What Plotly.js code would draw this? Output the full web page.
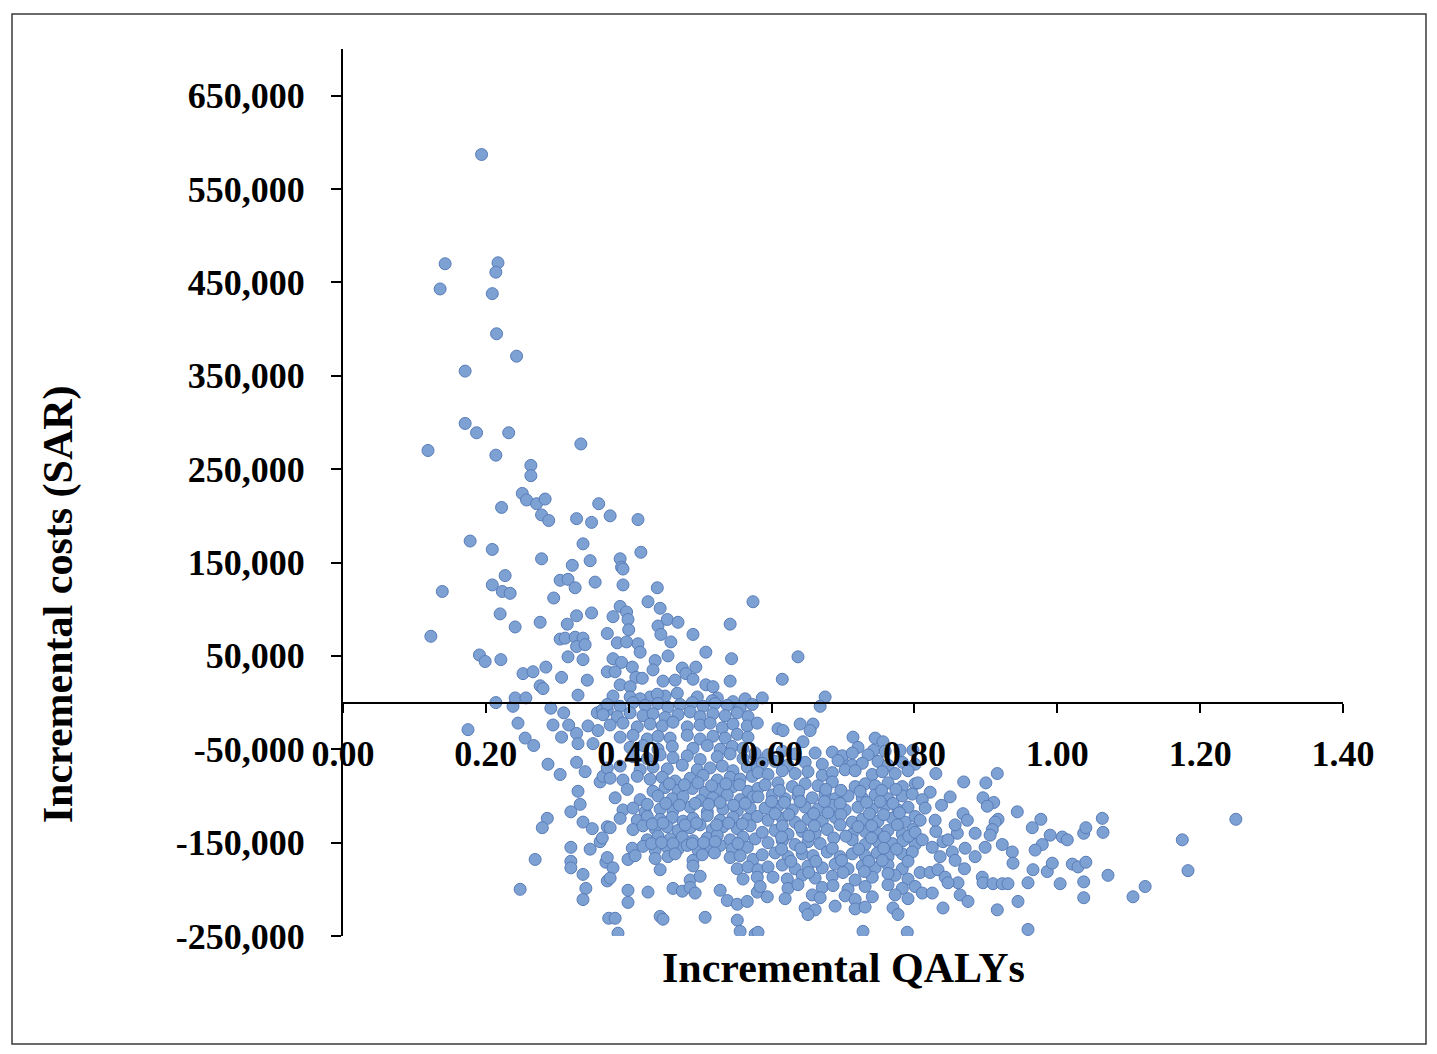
<!DOCTYPE html>
<html>
<head>
<meta charset="utf-8">
<script src="https://cdn.plot.ly/plotly-3.0.1.min.js"></script>
<style>
  html, body { margin: 0; padding: 0; background: #ffffff; }
  #chart { width: 1437px; height: 1054px; }
</style>
</head>
<body>
<div id="chart"></div>
<script>
// Each point: [incremental QALYs, incremental cost in thousand SAR]
const upperTail = [
  [0.194,587],[0.143,470],[0.217,471],[0.214,461],[0.136,443],[0.209,438],[0.215,395],[0.243,371],[0.171,355],
  [0.171,299],[0.187,289],[0.232,289],[0.119,270],[0.214,265],[0.333,277],[0.263,254],[0.263,243],[0.251,224],
  [0.257,217],[0.271,213],[0.283,218],[0.278,201],[0.288,195],[0.222,209],[0.327,197],[0.348,193],[0.358,213],
  [0.374,200],[0.178,173],[0.209,164],[0.278,154],[0.336,170],[0.346,152],[0.321,147],[0.353,129],[0.139,119],
  [0.227,136],[0.209,126],[0.223,119],[0.234,117],[0.304,131],[0.315,132],[0.325,123],[0.295,112]
];
const leftCluster = [
  [0.123,71],[0.220,95],[0.241,81],[0.276,86],[0.314,84],[0.327,93],[0.348,96],[0.304,68],[0.311,69],[0.325,70],
  [0.336,69],[0.327,60],[0.339,62],[0.370,74],[0.191,51],[0.199,44],[0.221,46],[0.252,31],[0.266,33],[0.284,38],
  [0.315,49],[0.336,46],[0.306,27],[0.342,24],[0.370,33],[0.276,18],[0.280,15],[0.329,8],[0.214,0],[0.238,-4],
  [0.241,5],[0.256,5],[0.175,-29],[0.245,-22],[0.255,-38],[0.267,-46],[0.291,-6],[0.309,-11],[0.294,-24],[0.316,-24],
  [0.306,-37],[0.327,-33],[0.329,-44],[0.343,-25],[0.350,-44],[0.357,-30],[0.356,-11],[0.370,-8],[0.363,-8],[0.287,-66],
  [0.327,-64],[0.304,-77],[0.339,-74],[0.360,-85],[0.364,-79],[0.329,-95],[0.332,-109],[0.319,-117],[0.286,-124],[0.279,-134],
  [0.336,-128],[0.349,-135],[0.370,-133],[0.319,-155],[0.346,-157],[0.360,-149],[0.269,-168],[0.319,-170],[0.319,-177],[0.336,-184],
  [0.368,-171],[0.370,-191],[0.340,-199],[0.248,-200],[0.336,-211],[0.372,-231]
];
const midUpper = [
  [0.413,196],[0.417,161],[0.388,154],[0.390,145],[0.392,143],[0.392,126],[0.440,123],[0.427,108],[0.444,101],[0.388,103],
  [0.397,97],[0.378,92],[0.399,89],[0.400,78],[0.441,82],[0.454,89],[0.469,86],[0.445,73],[0.490,73],[0.542,84],
  [0.574,108],[0.384,64],[0.397,65],[0.413,63],[0.416,54],[0.459,65],[0.455,50],[0.508,54],[0.544,47],[0.637,49],
  [0.378,47],[0.390,43],[0.437,45],[0.405,38],[0.434,35],[0.475,37],[0.494,38],[0.381,33],[0.410,27],[0.419,26],
  [0.448,23],[0.465,24],[0.480,31],[0.490,25],[0.508,19],[0.518,17],[0.542,23],[0.615,25],[0.388,19],[0.402,17],
  [0.378,7],[0.402,6],[0.430,6],[0.451,7],[0.468,10],[0.496,6],[0.524,5],[0.587,5],[0.675,6],
  [0.416,4],[0.517,2],[0.546,1],[0.563,4],[0.440,9],
  [0.668,-4],[0.609,-28],[0.616,-30],[0.640,-23],[0.658,-23],[0.654,-30],[0.714,-37],[0.721,-48],[0.745,-38],[0.756,-42],
  [0.644,-42],[0.743,-51],[0.780,-51],[0.798,-51],[0.661,-54],[0.699,-62],[0.713,-67],[0.703,-72]
];
const coreLeft = [
  [0.370,-2],[0.388,-4],[0.406,0],[0.423,-3],[0.441,-1],[0.455,-5],[0.472,-2],[0.489,0],[0.504,-4],[0.521,-1],[0.538,-3],[0.556,-6],[0.573,-2],
  [0.364,-13],[0.384,-15],[0.402,-11],[0.420,-14],[0.434,-12],[0.451,-16],[0.469,-13],[0.486,-10],[0.500,-15],[0.518,-12],[0.535,-14],[0.552,-11],[0.567,-15],
  [0.374,-24],[0.392,-22],[0.412,-26],[0.430,-23],[0.447,-25],[0.462,-21],[0.482,-26],[0.500,-24],[0.514,-22],[0.531,-27],[0.546,-23],[0.566,-25],[0.580,-22],
  [0.388,-37],[0.406,-35],[0.426,-39],[0.441,-36],[0.458,-38],[0.482,-35],[0.500,-39],[0.518,-36],[0.535,-38],[0.552,-34],[0.567,-37],
  [0.402,-48],[0.420,-46],[0.441,-50],[0.461,-47],[0.490,-49],[0.510,-46],[0.528,-50],[0.545,-47],[0.560,-49],
  [0.406,-58],[0.426,-60],[0.444,-56],[0.462,-59],[0.482,-57],[0.500,-61],[0.524,-58],[0.542,-55],[0.560,-60],[0.577,-57],
  [0.370,-70],[0.388,-68],[0.416,-72],[0.434,-69],[0.454,-71],[0.475,-67],[0.496,-72],[0.514,-70],[0.531,-68],[0.546,-73],[0.566,-69],[0.580,-71],
  [0.374,-81],[0.392,-83],[0.412,-79],[0.430,-82],[0.447,-80],[0.465,-84],[0.486,-81],[0.504,-78],[0.524,-83],[0.542,-80],[0.556,-82],[0.573,-79],
  [0.398,-93],[0.434,-95],[0.451,-91],[0.469,-94],[0.489,-92],[0.507,-96],[0.528,-93],[0.546,-90],[0.567,-95],[0.581,-92],
  [0.381,-102],[0.416,-104],[0.441,-100],[0.461,-103],[0.476,-101],[0.500,-105],[0.518,-102],[0.538,-99],[0.556,-104],[0.574,-101],
  [0.392,-115],[0.406,-113],[0.423,-117],[0.444,-114],[0.462,-116],[0.486,-112],[0.510,-117],[0.532,-114],[0.552,-116],[0.570,-113],
  [0.388,-124],[0.412,-126],[0.426,-122],[0.444,-125],[0.461,-123],[0.476,-127],[0.490,-124],[0.510,-121],[0.528,-126],[0.546,-123],[0.566,-125],[0.580,-122],
  [0.374,-134],[0.406,-136],[0.420,-132],[0.437,-135],[0.454,-133],[0.469,-137],[0.486,-134],[0.500,-131],[0.517,-136],[0.532,-133],[0.552,-135],[0.570,-132],
  [0.363,-145],[0.426,-147],[0.441,-143],[0.458,-146],[0.475,-144],[0.490,-148],[0.510,-145],[0.524,-142],[0.542,-147],[0.560,-144],[0.577,-146],
  [0.405,-156],[0.420,-154],[0.437,-158],[0.454,-155],[0.469,-157],[0.482,-153],[0.497,-158],[0.514,-155],[0.528,-153],[0.545,-157],[0.566,-155],
  [0.370,-166],[0.399,-168],[0.409,-164],[0.437,-167],[0.455,-165],[0.490,-169],[0.542,-166],[0.556,-164],[0.574,-168],
  [0.378,-177],[0.444,-179],[0.490,-175],[0.552,-178],[0.567,-176],[0.581,-179],
  [0.374,-188],[0.486,-190],[0.500,-186],[0.560,-189],[0.580,-187],
  [0.399,-201],[0.427,-203],[0.462,-199],[0.475,-202],[0.486,-198],[0.493,-204],[0.528,-201],[0.580,-203],
  [0.399,-214],[0.538,-212],[0.552,-216],[0.566,-213],
  [0.381,-231],[0.444,-229],[0.448,-232],[0.507,-230],[0.552,-233],
  [0.385,-247],[0.556,-245],[0.577,-248]
];
const coreRight = [
  [0.577,-54],[0.595,-56],[0.615,-52],[0.633,-55],[0.685,-53],[0.699,-57],[0.713,-54],[0.735,-56],[0.759,-52],
  [0.587,-65],[0.605,-63],[0.623,-67],[0.647,-64],[0.671,-66],[0.693,-62],[0.727,-65],[0.749,-63],[0.763,-67],[0.783,-64],[0.801,-66],
  [0.581,-75],[0.595,-77],[0.615,-73],[0.633,-76],[0.651,-74],[0.671,-78],[0.685,-75],[0.717,-73],[0.741,-77],[0.755,-74],[0.773,-76],[0.791,-73],
  [0.591,-88],[0.609,-86],[0.629,-90],[0.647,-87],[0.665,-89],[0.685,-85],[0.717,-90],[0.731,-87],[0.745,-89],[0.763,-86],[0.783,-90],[0.801,-87],
  [0.581,-101],[0.601,-99],[0.619,-103],[0.637,-100],[0.657,-102],[0.675,-98],[0.689,-103],[0.707,-100],[0.727,-102],[0.745,-99],[0.763,-103],[0.783,-100],[0.797,-98],
  [0.591,-113],[0.609,-111],[0.629,-115],[0.647,-112],[0.665,-114],[0.685,-110],[0.703,-115],[0.721,-112],[0.741,-114],[0.759,-111],[0.777,-115],[0.791,-112],
  [0.595,-126],[0.615,-124],[0.633,-128],[0.651,-125],[0.671,-127],[0.689,-123],[0.713,-128],[0.727,-125],[0.749,-127],[0.769,-124],[0.787,-128],[0.801,-122],
  [0.587,-139],[0.605,-137],[0.623,-141],[0.643,-138],[0.661,-140],[0.678,-136],[0.713,-141],[0.731,-138],[0.749,-140],[0.763,-137],[0.783,-141],[0.798,-136],
  [0.595,-150],[0.615,-148],[0.633,-152],[0.651,-149],[0.668,-151],[0.713,-147],[0.731,-152],[0.749,-149],[0.769,-151],[0.784,-148],[0.801,-152],
  [0.587,-163],[0.605,-161],[0.623,-165],[0.643,-162],[0.658,-164],[0.678,-160],[0.696,-165],[0.713,-162],[0.731,-164],[0.748,-161],[0.763,-165],[0.783,-162],[0.797,-160],
  [0.595,-176],[0.615,-174],[0.633,-178],[0.651,-175],[0.671,-177],[0.689,-173],[0.707,-178],[0.727,-175],[0.745,-177],[0.763,-174],[0.783,-178],
  [0.602,-187],[0.622,-189],[0.643,-185],[0.661,-188],[0.685,-186],[0.717,-190],[0.741,-187],[0.773,-185],[0.791,-189],
  [0.584,-197],[0.623,-199],[0.637,-195],[0.671,-198],[0.686,-196],[0.707,-200],[0.731,-197],[0.763,-195],[0.783,-199],[0.801,-197],
  [0.594,-208],[0.619,-210],[0.657,-206],[0.668,-209],[0.703,-207],[0.717,-211],[0.741,-208],[0.773,-206],[0.791,-210],
  [0.647,-220],[0.661,-222],[0.689,-218],[0.717,-221],[0.731,-219],[0.770,-220],
  [0.651,-227],[0.777,-227],[0.581,-246],[0.728,-245],[0.790,-246]
];
const coreFill = [
  [0.457,-87],[0.478,-88],[0.497,-86],[0.516,-89],[0.536,-87],[0.555,-88],
  [0.426,-109],[0.452,-108],[0.471,-110],[0.493,-108],[0.512,-109],[0.528,-107],[0.547,-110],[0.563,-108],
  [0.433,-130],[0.448,-129],[0.479,-131],[0.495,-129],[0.523,-131],[0.540,-129],[0.559,-130],
  [0.432,-151],[0.446,-150],[0.462,-151],[0.489,-151],[0.505,-150],[0.521,-149],[0.553,-151],
  [0.465,-162],[0.503,-163],[0.520,-161],
  [0.611,-94],[0.638,-95],[0.676,-93],[0.697,-94],[0.724,-95],[0.754,-94],[0.774,-93],
  [0.600,-106],[0.618,-107],[0.640,-106],[0.674,-106],[0.696,-108],[0.733,-107],[0.752,-106],[0.770,-108],
  [0.605,-119],[0.624,-120],[0.659,-119],[0.679,-118],[0.697,-120],[0.737,-119],[0.757,-120],[0.779,-118],
  [0.615,-132],[0.640,-133],[0.660,-132],[0.696,-131],[0.721,-133],[0.740,-132],[0.776,-131],
  [0.614,-144],[0.652,-143],[0.687,-145],[0.704,-143],[0.740,-145],[0.758,-144],[0.792,-143],
  [0.614,-157],[0.641,-156],[0.685,-156],[0.722,-157],[0.757,-156],[0.775,-157],
  [0.627,-170],[0.662,-170],[0.698,-169],[0.736,-170],[0.755,-169],[0.791,-170],
  [0.652,-182],[0.700,-182],[0.730,-181],[0.763,-183],
  [0.822,-96],[0.838,-110],[0.860,-140],[0.885,-165],[0.836,-165],[0.870,-178],[0.885,-140],[0.830,-138]
];
const rightTail = [
  [0.830,-76],[0.869,-85],[0.900,-86],[0.916,-76],[0.805,-86],[0.850,-101],[0.896,-102],[0.911,-107],[0.902,-111],[0.944,-117],
  [0.811,-104],[0.815,-113],[0.829,-126],[0.808,-126],[0.868,-119],[0.874,-126],[0.857,-131],[0.917,-125],[0.913,-128],[0.909,-136],
  [0.906,-142],[0.965,-134],[0.977,-125],[0.990,-142],[1.007,-144],[1.014,-147],[1.037,-140],[1.040,-134],[1.063,-124],[1.064,-139],
  [1.175,-147],[1.250,-125],[0.801,-139],[0.811,-147],[0.825,-155],[0.840,-149],[0.847,-147],[0.853,-160],[0.871,-156],[0.899,-155],
  [0.923,-152],[0.937,-160],[0.938,-172],[0.979,-152],[0.969,-158],[0.966,-179],[0.986,-181],[0.993,-172],[1.021,-173],[1.029,-176],
  [1.040,-171],[1.071,-185],[1.183,-180],[0.808,-182],[0.822,-182],[0.833,-179],[0.843,-187],[0.857,-169],[0.861,-193],[0.847,-193],
  [0.895,-187],[0.896,-193],[0.910,-194],[0.923,-194],[0.931,-194],[0.959,-193],[1.004,-194],[1.037,-192],[0.811,-204],[0.825,-204],
  [0.840,-220],[0.864,-206],[0.875,-213],[0.945,-213],[1.037,-209],[0.916,-222],[1.106,-208],[1.123,-197],[0.959,-243]
];

const xTickVals = [0, 0.2, 0.4, 0.6, 0.8, 1.0, 1.2, 1.4];
const xTickText = ['0.00', '0.20', '0.40', '0.60', '0.80', '1.00', '1.20', '1.40'];
const yTickVals = [-250000, -150000, -50000, 50000, 150000, 250000, 350000, 450000, 550000, 650000];
const yTickText = ['-250,000', '-150,000', '-50,000', '50,000', '150,000', '250,000', '350,000', '450,000', '550,000', '650,000'];
const xTitle = 'Incremental QALYs';
const yTitle = 'Incremental costs (SAR)';

const allPoints = [].concat(upperTail, leftCluster, midUpper, coreLeft, coreRight, coreFill, rightTail);
const qaly = allPoints.map(p => p[0]);
const cost = allPoints.map(p => p[1] * 1000);

const FONT = '"Liberation Serif", "Times New Roman", serif';

const trace = {
  type: 'scatter',
  mode: 'markers',
  x: qaly,
  y: cost,
  marker: {
    size: 12,
    color: 'rgb(126,161,212)',
    line: { color: 'rgb(88,124,184)', width: 1 }
  },
  hoverinfo: 'x+y'
};

const layout = {
  width: 1437,
  height: 1054,
  paper_bgcolor: '#ffffff',
  plot_bgcolor: '#ffffff',
  showlegend: false,
  margin: { l: 343, r: 94, t: 49, b: 118 },
  font: { family: FONT, color: '#000000' },
  xaxis: {
    range: [0, 1.4],
    anchor: 'free',
    position: 250000 / 950000,
    tickmode: 'array',
    tickvals: xTickVals,
    ticktext: xTickText,
    ticks: 'outside',
    ticklen: 9,
    tickwidth: 2,
    tickcolor: '#000000',
    showline: true,
    linecolor: '#000000',
    linewidth: 2,
    showgrid: false,
    zeroline: false,
    ticklabelstandoff: 10,
    tickfont: { family: FONT, size: 36, color: '#000000', weight: 'bold' }
  },
  yaxis: {
    range: [-250000, 700000],
    tickmode: 'array',
    tickvals: yTickVals,
    ticktext: yTickText,
    ticks: 'outside',
    ticklen: 10,
    tickwidth: 2,
    tickcolor: '#000000',
    showline: true,
    linecolor: '#000000',
    linewidth: 2,
    showgrid: false,
    zeroline: false,
    ticklabelstandoff: 19,
    tickfont: { family: FONT, size: 36, color: '#000000', weight: 'bold' }
  },
  annotations: [
    {
      text: '<b>' + xTitle + '</b>',
      xref: 'paper', yref: 'paper',
      x: 0.5, y: -0.036,
      xanchor: 'center', yanchor: 'middle',
      showarrow: false,
      font: { family: FONT, size: 42, color: '#000000' }
    },
    {
      text: '<b>' + yTitle + '</b>',
      xref: 'paper', yref: 'paper',
      x: -0.285, y: 0.374,
      xanchor: 'center', yanchor: 'middle',
      textangle: -90,
      showarrow: false,
      font: { family: FONT, size: 42, color: '#000000' }
    }
  ],
  shapes: [
    {
      type: 'rect',
      xref: 'paper', yref: 'paper',
      x0: -0.331, x1: 1.083, y0: -0.1218, y1: 1.0395,
      line: { color: '#3a3a3a', width: 1.5 },
      fillcolor: 'rgba(0,0,0,0)',
      layer: 'below'
    }
  ]
};

Plotly.newPlot('chart', [trace], layout, { displayModeBar: false, staticPlot: true });
</script>
</body>
</html>
